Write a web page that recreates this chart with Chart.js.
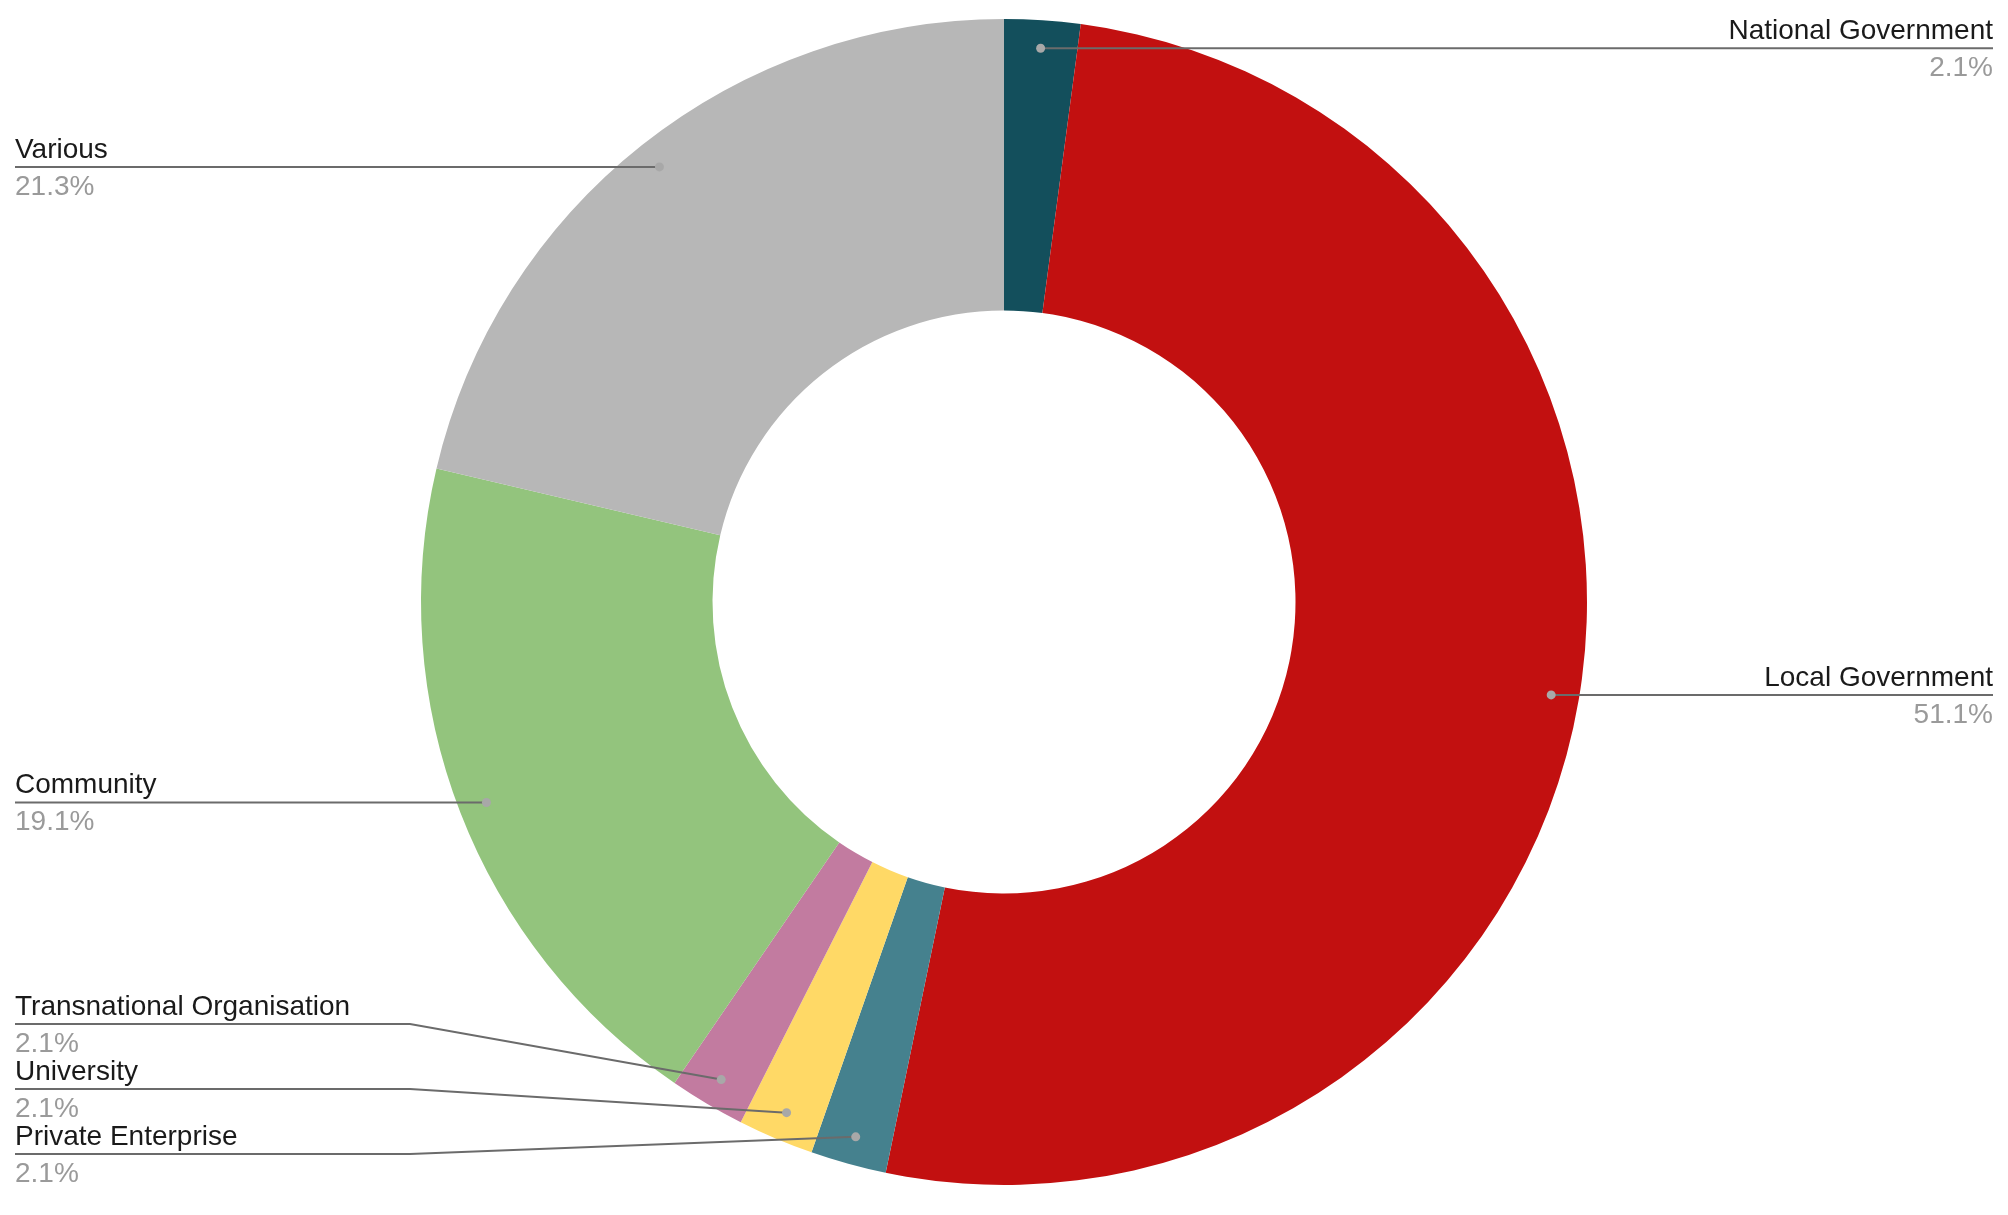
<!DOCTYPE html>
<html>
<head>
<meta charset="utf-8">
<script src="https://cdn.jsdelivr.net/npm/chart.js@4/dist/chart.umd.min.js"></script>
<style>
  html, body { margin: 0; padding: 0; background: #fff; }
  #wrap { width: 2008px; height: 1215px; }
</style>
</head>
<body>
<div id="wrap"><canvas id="chart" width="2008" height="1215"></canvas></div>
<script>
// datos
const categorias = ["National Government", "Local Government", "Private Enterprise", "University",
  "Transnational Organisation", "Community", "Various"];
const porcentajes = [2.1, 51.1, 2.1, 2.1, 2.1, 19.1, 21.3];
const colores = ["#134f5c", "#c21010", "#45818e", "#ffd966", "#c27ba0", "#93c47d", "#b7b7b7"];

// Etiquetas con líneas guía (estilo Google Charts)
const etiquetasPlugin = {
  id: "etiquetas",
  afterDraw(chart) {
    const ctx = chart.ctx;
    const meta = chart.getDatasetMeta(0);
    const W = chart.width;
    const margen = 15, codo = 410, sep = 65, limiteAbajo = 1154;

    const items = meta.data.map((arc, i) => {
      const p = arc.getProps(["x", "y", "startAngle", "endAngle", "outerRadius"], true);
      const a = (p.startAngle + p.endAngle) / 2;
      const r = p.outerRadius * 0.952;
      const dx = p.x + Math.cos(a) * r;
      const dy = p.y + Math.sin(a) * r;
      return { i, dx, dy, lado: Math.cos(a) >= 0 ? "der" : "izq", y: dy };
    });

    ["izq", "der"].forEach(lado => {
      const grupo = items.filter(it => it.lado === lado).sort((a, b) => a.dy - b.dy);
      for (let k = 1; k < grupo.length; k++) {
        if (grupo[k].y < grupo[k - 1].y + sep) grupo[k].y = grupo[k - 1].y + sep;
      }
      for (let k = grupo.length - 1; k >= 0; k--) {
        const max = k === grupo.length - 1 ? limiteAbajo : grupo[k + 1].y - sep;
        if (grupo[k].y > max) grupo[k].y = max;
      }
    });

    ctx.save();
    items.forEach(it => {
      const izq = it.lado === "izq";
      const xBorde = izq ? margen : W - margen;
      const xCodo = izq ? codo : W - codo;

      ctx.strokeStyle = "#6b6b6b";
      ctx.lineWidth = 2;
      ctx.beginPath();
      ctx.moveTo(xBorde, it.y);
      if (Math.abs(it.y - it.dy) < 0.5) {
        ctx.lineTo(it.dx, it.dy);
      } else {
        ctx.lineTo(xCodo, it.y);
        ctx.lineTo(it.dx, it.dy);
      }
      ctx.stroke();

      ctx.fillStyle = "#a8a8a8";
      ctx.beginPath();
      ctx.arc(it.dx, it.dy, 4.5, 0, Math.PI * 2);
      ctx.fill();

      ctx.font = "28px 'Liberation Sans', Arial, sans-serif";
      ctx.textAlign = izq ? "left" : "right";
      ctx.textBaseline = "alphabetic";
      ctx.fillStyle = "#1a1a1a";
      ctx.fillText(categorias[it.i], xBorde, it.y - 9);
      ctx.fillStyle = "#9a9a9a";
      ctx.fillText(porcentajes[it.i].toFixed(1) + "%", xBorde, it.y + 28);
    });
    ctx.restore();
  }
};

const ctx = document.getElementById("chart").getContext("2d");
new Chart(ctx, {
  type: "doughnut",
  data: {
    labels: categorias,
    datasets: [{
      data: porcentajes,
      backgroundColor: colores,
      borderWidth: 0
    }]
  },
  options: {
    responsive: false,
    animation: false,
    cutout: "50%",
    layout: { padding: { top: 19, bottom: 30, left: 0, right: 0 } },
    plugins: {
      legend: { display: false },
      tooltip: { enabled: false }
    }
  },
  plugins: [etiquetasPlugin]
});
</script>
</body>
</html>
